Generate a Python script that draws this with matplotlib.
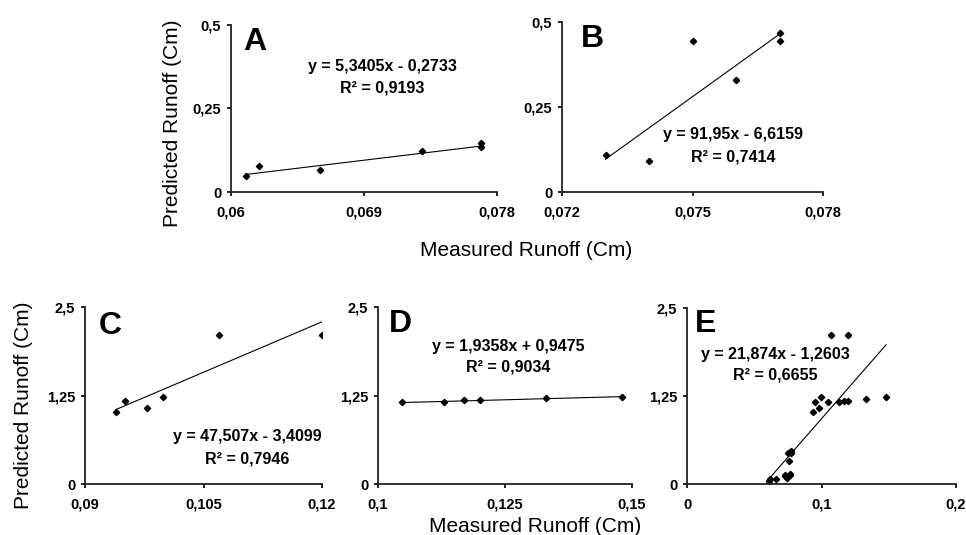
import matplotlib
matplotlib.use("Agg")
import matplotlib.pyplot as plt
import numpy as np

plt.rcParams['font.family'] = ['Liberation Sans', 'DejaVu Sans']

# ---- data ----
a_x = [0.0610, 0.0619, 0.0660, 0.0729, 0.0769, 0.0769]
a_y = [0.049, 0.078, 0.065, 0.124, 0.148, 0.134]
b_x = [0.0730, 0.0740, 0.0750, 0.0760, 0.0770, 0.0770]
b_y = [0.109, 0.090, 0.444, 0.329, 0.469, 0.444]
c_x = [0.0939, 0.0950, 0.0979, 0.0999, 0.1069, 0.1200]
c_y = [1.02, 1.17, 1.08, 1.23, 2.11, 2.11]
d_x = [0.1047, 0.1129, 0.1170, 0.1200, 0.1330, 0.1480]
d_y = [1.160, 1.165, 1.180, 1.180, 1.210, 1.230]
# panel E pools all points of A-D
e_x = a_x + b_x + c_x + d_x
e_y = a_y + b_y + c_y + d_y

slopes = [5.3405, 91.95, 47.507, 1.9358, 21.874]
intercepts = [-0.2733, -6.6159, -3.4099, 0.9475, -1.2603]
eq_texts = ["y = 5,3405x - 0,2733", "y = 91,95x - 6,6159", "y = 47,507x - 3,4099",
            "y = 1,9358x + 0,9475", "y = 21,874x - 1,2603"]
r2_texts = ["R² = 0,9193", "R² = 0,7414", "R² = 0,7946",
            "R² = 0,9034", "R² = 0,6655"]
letters = ["A", "B", "C", "D", "E"]

xticks = [[0.06, 0.069, 0.078], [0.072, 0.075, 0.078], [0.09, 0.105, 0.12],
          [0.1, 0.125, 0.15], [0, 0.1, 0.2]]
xticklabels = [["0,06", "0,069", "0,078"], ["0,072", "0,075", "0,078"],
               ["0,09", "0,105", "0,12"], ["0,1", "0,125", "0,15"], ["0", "0,1", "0,2"]]
yticks = [[0, 0.25, 0.5], [0, 0.25, 0.5], [0, 1.25, 2.5], [0, 1.25, 2.5], [0, 1.25, 2.5]]
yticklabels = [["0", "0,25", "0,5"], ["0", "0,25", "0,5"], ["0", "1,25", "2,5"],
               ["0", "1,25", "2,5"], ["0", "1,25", "2,5"]]

xs = [a_x, b_x, c_x, d_x, e_x]
ys = [a_y, b_y, c_y, d_y, e_y]

W, H = 966, 535
fig = plt.figure(figsize=(W / 100, H / 100), dpi=100)
fig.patch.set_facecolor('white')

# axes boxes in pixels: left, top, right, bottom
boxes = [(231, 25, 497, 192), (562, 22, 823, 192), (85, 307, 322, 484),
         (378, 307, 632, 484), (687, 308, 956, 484)]
letter_pos = [(243, 27), (581, 24), (99, 311), (389, 309), (695, 309)]
eq_pos = [(382, 67, 88), (733, 135, 157), (247, 437, 459), (508, 346, 367), (775, 354, 375)]

for i in range(5):
    l, t, r, b = boxes[i]
    ax = fig.add_axes([l / W, 1 - b / H, (r - l) / W, (b - t) / H])
    x = np.array(xs[i]); y = np.array(ys[i])
    ax.plot(x, y, linestyle='none', marker='D', markersize=3.2, color='black')
    xl = np.array([x.min(), x.max()])
    ax.plot(xl, slopes[i] * xl + intercepts[i], color='black', linewidth=0.8)
    ax.set_xlim(xticks[i][0], xticks[i][-1])
    ax.set_ylim(yticks[i][0], yticks[i][-1])
    ax.set_xticks(xticks[i]); ax.set_xticklabels(xticklabels[i])
    ax.set_yticks(yticks[i]); ax.set_yticklabels(yticklabels[i])
    for s in ['top', 'right']:
        ax.spines[s].set_visible(False)
    for s in ['left', 'bottom']:
        ax.spines[s].set_linewidth(1.3)
        ax.spines[s].set_color('#222222')
    ax.tick_params(axis='x', direction='out', length=3, width=1.2, pad=7, labelsize=10.5)
    ax.tick_params(axis='y', direction='out', length=3, width=1.2, pad=4, labelsize=10.5)
    for lab in ax.get_xticklabels() + ax.get_yticklabels():
        lab.set_fontweight('bold')
    ax.set_facecolor('none')
    # letter
    lx, ly = letter_pos[i]
    ax.text((lx - l) / (r - l), 1 - (ly - t) / (b - t), letters[i], transform=ax.transAxes,
            ha='left', va='top', fontsize=23, fontweight='bold')
    ex, ey1, ey2 = eq_pos[i]
    ax.text((ex - l) / (r - l), 1 - (ey1 - t) / (b - t), eq_texts[i], transform=ax.transAxes,
            ha='center', va='center', fontsize=11.5, fontweight='bold')
    ax.text((ex - l) / (r - l), 1 - (ey2 - t) / (b - t), r2_texts[i], transform=ax.transAxes,
            ha='center', va='center', fontsize=11.5, fontweight='bold')

fig.text(173 / W, 1 - 123 / H, "Predicted Runoff (Cm)", rotation=90, ha='center', va='center', fontsize=15)
fig.text(24 / W, 1 - 405 / H, "Predicted Runoff (Cm)", rotation=90, ha='center', va='center', fontsize=15)
fig.text(526 / W, 1 - 250 / H, "Measured Runoff (Cm)", ha='center', va='center', fontsize=15)
fig.text(535 / W, 1 - 527 / H, "Measured Runoff (Cm)", ha='center', va='center', fontsize=15)

fig.savefig("out.png", dpi=100, facecolor='white')
